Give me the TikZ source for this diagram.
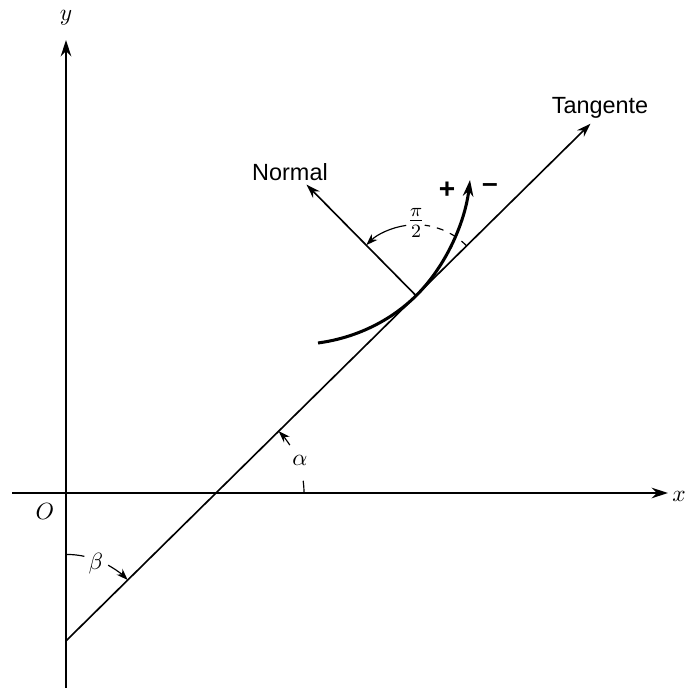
\documentclass[tikz,border=0pt]{standalone}
\usepackage{amsmath}
\usepackage{fontspec}
\setsansfont{Liberation Sans}
\usetikzlibrary{arrows.meta,calc}

\begin{document}
\begin{tikzpicture}[x=0.015cm, y=0.015cm,
  eje/.style={line width=0.9pt, -{Stealth[length=7pt,width=4.5pt]}},
  recta/.style={line width=0.7pt},
  curva/.style={line width=1.3pt, -{Stealth[length=7pt,width=4.5pt]}},
  flecha/.style={line width=0.5pt, -{Stealth[length=5pt,width=3.5pt]}},
  arco/.style={line width=0.5pt},
  rotulo/.style={font=\sffamily, inner sep=1pt},
  signo/.style={font=\sffamily\bfseries\large, inner sep=1pt},
]
  \useasboundingbox (0,0) rectangle (686,688);

  % Ejes coordenados
  \coordinate (ybajo)  at (66,0);
  \coordinate (yalto)  at (66,648);
  \coordinate (xizq)   at (12,195);
  \coordinate (xder)   at (668,195);
  \draw[eje] (ybajo) -- (yalto);
  \draw[eje] (xizq) -- (xder);
  \node (ylab) at (66,670) {$y$};
  \node (xlab) at (679,192) {$x$};
  \node (olab) at (45,177) {$O$};

  % Recta tangente y punto de contacto
  \coordinate (A) at (216,195);
  \coordinate (B) at ($(A)+(224.6:210)$);
  \coordinate (T) at ($(A)+(44.6:526)$);
  \coordinate (P) at ($(A)+(44.6:281)$);
  \coordinate (N) at ($(P)+(134.6:156)$);
  \draw[recta, -{Stealth[length=6pt,width=4pt]}] (B) -- (T);
  \draw[recta, -{Stealth[length=6pt,width=4pt]}] (P) -- (N);
  \node[rotulo] (tang) at (600,580) {Tangente};
  \node[rotulo] (norm) at (290,516) {Normal};

  % Curva orientada
  \coordinate (c0) at (318,345);
  \coordinate (c1) at (470,508);
  \draw[curva] (c0) .. controls (355,350) and ($(P)+(224.6:37)$) .. (P)
               .. controls ($(P)+(44.6:41)$) and (465,465) .. (c1);
  \node[signo] (mas)   at (447,498) {+};
  \node[signo] (menos) at (490,500) {--};

  % Angulo recto entre tangente y normal
  \draw[arco, dashed] ($(P)+(44.6:71)$) arc[start angle=44.6, end angle=83, radius=71];
  \draw[flecha] ($(P)+(98:71)$) arc[start angle=98, end angle=134.6, radius=71];
  \node[inner sep=0pt, font=\large] (recto) at ($(P)+(90:73)$) {$\frac{\pi}{2}$};

  % Angulos alfa y beta
  \draw[arco] ($(A)+(0:88)$) arc[start angle=0, end angle=8, radius=88];
  \draw[flecha] ($(A)+(33:88)$) arc[start angle=33, end angle=44.6, radius=88];
  \node (alfa) at ($(A)+(21:90)$) {$\alpha$};
  \draw[arco] ($(B)+(90:86)$) arc[start angle=90, end angle=78, radius=86];
  \draw[flecha] ($(B)+(61:86)$) arc[start angle=61, end angle=44.6, radius=86];
  \node (beta) at ($(B)+(69:82)$) {$\beta$};
\end{tikzpicture}
\end{document}
